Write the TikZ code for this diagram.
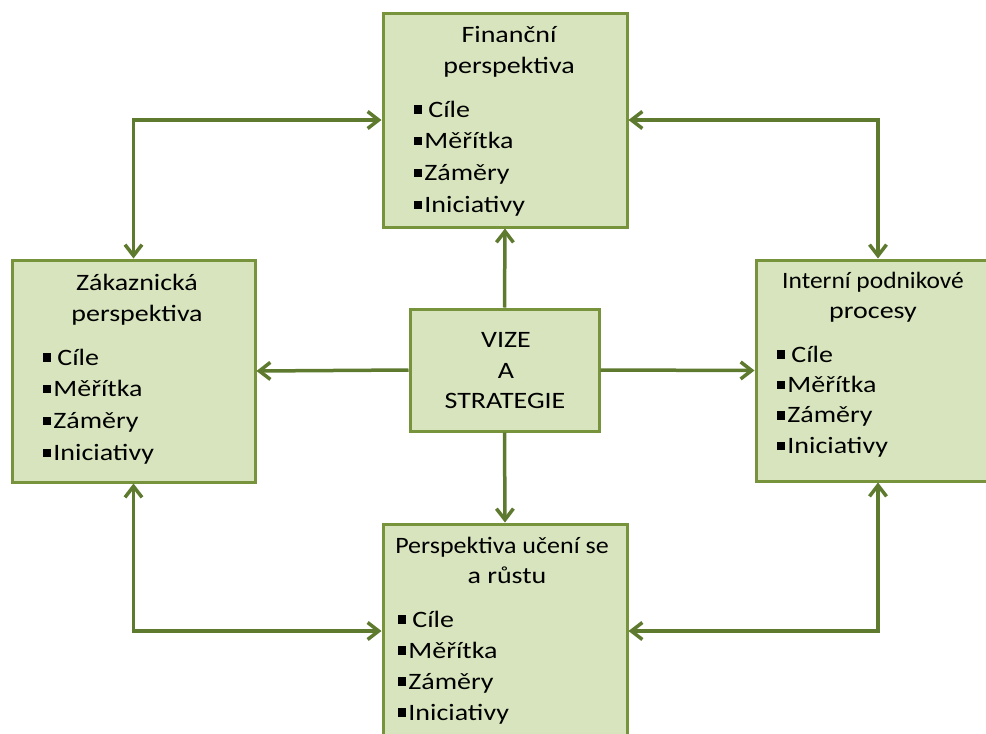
\documentclass[tikz,border=0pt]{standalone}
\usepackage{fontspec}
\usepackage{graphicx}
\setmainfont{Carlito}[FakeStretch=1.19]
\usetikzlibrary{arrows.meta}
\definecolor{boxfill}{RGB}{215,228,189}
\definecolor{boxline}{RGB}{119,147,60}
\definecolor{linkcol}{RGB}{94,122,46}
\newcommand\sqbul{\rule[0.14em]{0.35em}{0.35em}}
\tikzset{
  panel/.style={draw=boxline, fill=boxfill, line width=3pt, inner sep=0pt},
  txt/.style={inner sep=0pt, anchor=base, text=black, font=\fontsize{23.5}{28}\selectfont},
  item/.style={txt, anchor=base west},
  link/.style={draw=linkcol, line width=3.5pt,
    arrows={Straight Barb[length=11pt,width=17pt]-Straight Barb[length=11pt,width=17pt]}},
  tolink/.style={draw=linkcol, line width=3.5pt, arrows={-Straight Barb[length=11pt,width=17pt]}}
}
\begin{document}
\begin{tikzpicture}[x=1pt,y=-1pt]
\useasboundingbox (0,0) rectangle (986,734);
\clip (0,0) rectangle (986,734);

% panels
\node[panel, minimum width=244pt, minimum height=214pt] (fin) at (505,120) {};
\node[panel, minimum width=243pt, minimum height=222pt] (zak) at (133.5,371) {};
\node[panel, minimum width=189pt, minimum height=122pt] (viz) at (504.5,370) {};
\node[panel, minimum width=244pt, minimum height=221pt] (int) at (878,370.5) {};
\node[panel, minimum width=244pt, minimum height=214pt] (uce) at (505,631) {};

% titles
\node[txt] (fin-t1) at (509,42) {Finanční};
\node[txt] (fin-t2) at (509,73) {perspektiva};
\node[txt] (zak-t1) at (137,290) {Zákaznická};
\node[txt] (zak-t2) at (137,321) {perspektiva};
\node[txt] (int-t1) at (873,288) {\scalebox{0.91}[1]{Interní podnikové}};
\node[txt] (int-t2) at (873,318) {procesy};
\node[txt] (uce-t1) at (502,553) {\scalebox{0.93}[1]{Perspektiva učení se}};
\node[txt] (uce-t2) at (507,583) {a růstu};
\node[txt] (viz-t1) at (506,347) {VIZE};
\node[txt] (viz-t2) at (506,378) {A};
\node[txt] (viz-t3) at (505,408) {STRATEGIE};

% bullet lists
\foreach \p/\x/\y/\d in {fin/414/117/31.7, zak/43/365/31.7, int/777/362/30.4, uce/398/627/31} {
  \foreach \t [count=\i] in {{\sqbul\hspace{6pt}Cíle},{\sqbul\hspace{2pt}Měřítka},{\sqbul\hspace{2pt}Záměry},{\sqbul\hspace{2pt}Iniciativy}}
    \node[item] (\p-i\i) at (\x,{\y+\d*(\i-1)}) {\t};
}

% connectors between the perspectives
\draw[link] (zak.north) |- (fin.west);
\draw[link] (fin.east) -| (int.north);
\draw[link] (zak.south) |- (uce.west);
\draw[link] (uce.east) -| (int.south);

% connectors from the vision
\draw[tolink] (viz.north) -- (fin.south);
\draw[tolink] (viz.west) -- (zak.east);
\draw[tolink] (viz.east) -- (int.west);
\draw[tolink] (viz.south) -- (uce.north);
\end{tikzpicture}
\end{document}
